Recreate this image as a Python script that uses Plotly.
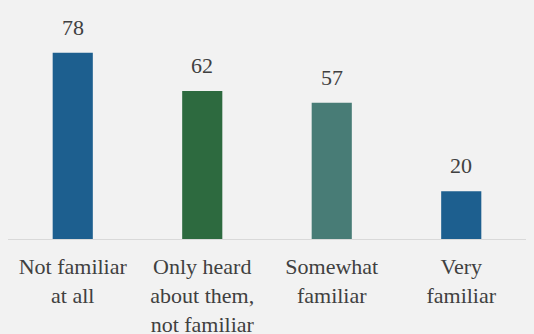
import plotly.graph_objects as go

categories = ["Not familiar<br>at all", "Only heard<br>about them,<br>not familiar", "Somewhat<br>familiar", "Very<br>familiar"]
values = [78, 62, 57, 20]
colors = ["#1D5F8F", "#2D6A3F", "#487C76", "#1D5F8F"]

FONT = "Liberation Serif, DejaVu Serif, serif"

fig = go.Figure(go.Bar(x=categories, y=values, marker=dict(color=colors, line=dict(width=0)),
                       hoverinfo="skip"))

for c, v in zip(categories, values):
    fig.add_annotation(x=c, y=v, text=str(v), showarrow=False, yanchor="bottom", yshift=11,
                       font=dict(family=FONT, size=22, color="#404040"))

fig.update_layout(
    width=534, height=334,
    margin=dict(l=8, r=8, t=24, b=95),
    paper_bgcolor="#F2F2F2", plot_bgcolor="#F2F2F2",
    bargap=0.69,
    showlegend=False,
    font=dict(family=FONT, size=22, color="#404040"),
)
fig.update_xaxes(showline=True, linecolor="#D9D9D9", linewidth=1, ticks="outside", ticklen=8,
                 tickcolor="rgba(0,0,0,0)", showgrid=False, automargin=False,
                 tickfont=dict(family=FONT, size=22, color="#404040"))
fig.update_yaxes(range=[0, 90], visible=False, showgrid=False, zeroline=False, automargin=False)

fig.write_html("out.html", config={"displayModeBar": False},
               post_script="document.body.style.margin='0';")
